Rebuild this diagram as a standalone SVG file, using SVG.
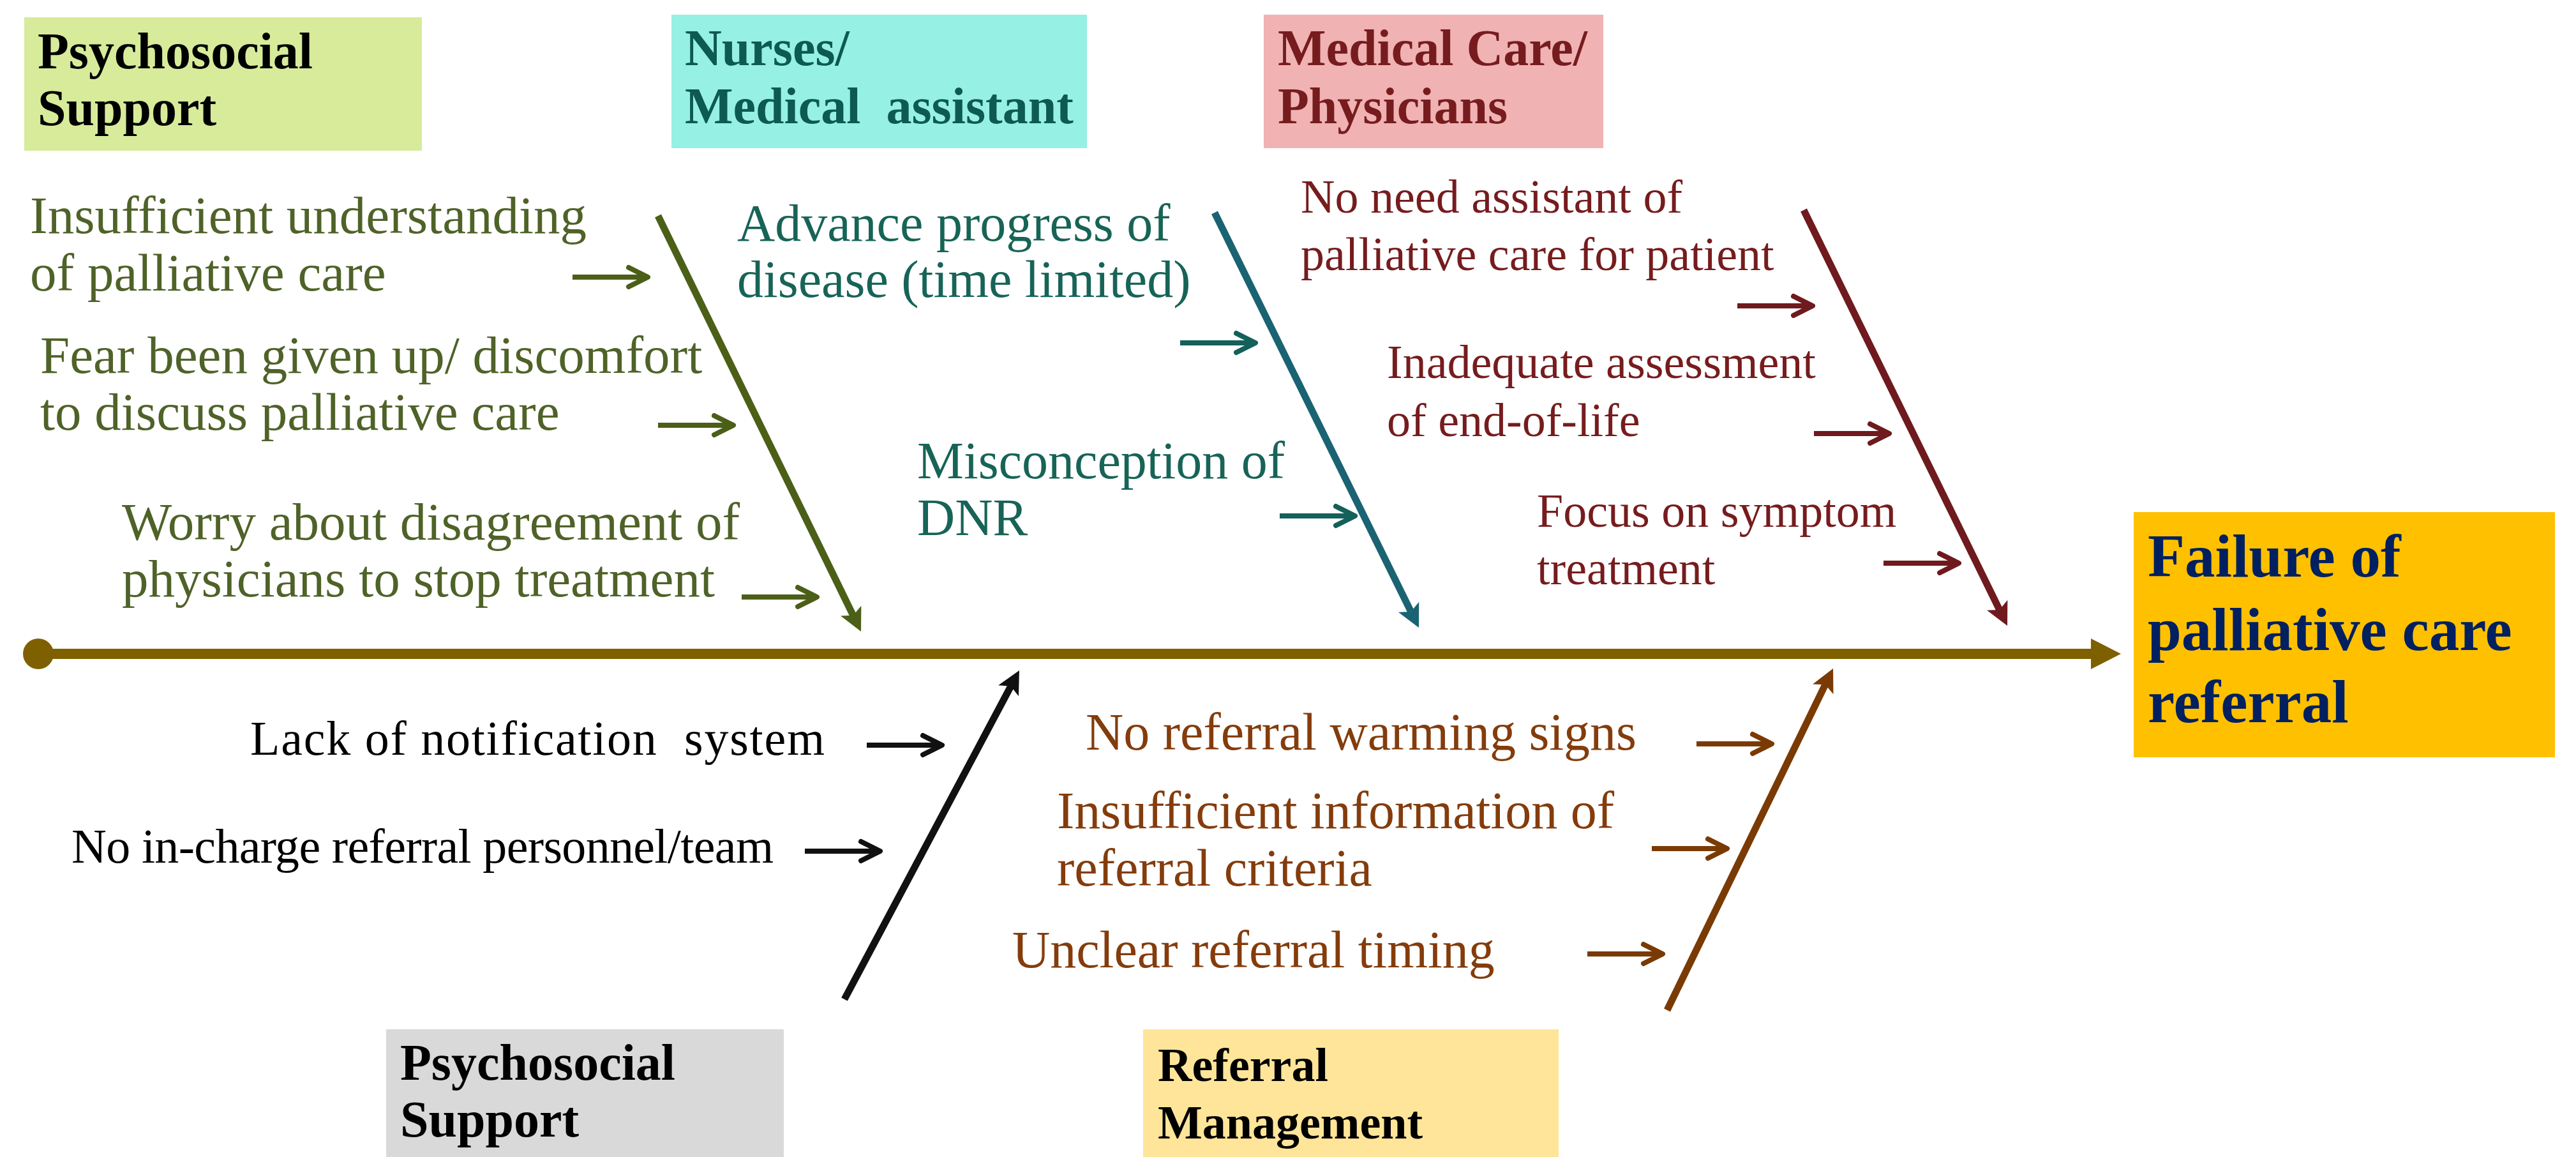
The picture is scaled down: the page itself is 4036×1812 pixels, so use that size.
<svg xmlns="http://www.w3.org/2000/svg" xmlns:xlink="http://www.w3.org/1999/xlink" width="4036" height="1812" viewBox="0 0 4036 1812">
<style>
.t{font-family:"Liberation Serif","Times New Roman",serif;}
.h{font-family:"Liberation Serif","Times New Roman",serif;font-weight:bold;font-size:80px;}
.g{fill:#4f6228;font-size:83px;}
.tl{fill:#176457;font-size:82px;}
.m{fill:#761c1e;font-size:74px;}
.k{fill:#000;font-size:76px;}
.b{fill:#843c0c;font-size:82px;}
.diag{fill:none;stroke-width:11;stroke-linecap:butt;}
.sa-line{fill:none;stroke-width:8;stroke-linecap:butt;}
.sa-head{fill:none;stroke-width:8;stroke-linecap:round;stroke-linejoin:round;}
</style>
<defs>
<g id="sa">
<path class="sa-line" d="M0,0 H114"/>
<path class="sa-head" d="M88,-15 L118,0 L88,15"/>
</g>
<marker id="hG" markerUnits="userSpaceOnUse" markerWidth="80" markerHeight="80" refX="0" refY="0" orient="auto" overflow="visible"><path d="M28,0 L-8,-18 L0,0 L-8,18 Z" fill="#4b5f17"/></marker>
<marker id="hT" markerUnits="userSpaceOnUse" markerWidth="80" markerHeight="80" refX="0" refY="0" orient="auto" overflow="visible"><path d="M28,0 L-8,-18 L0,0 L-8,18 Z" fill="#1a6372"/></marker>
<marker id="hM" markerUnits="userSpaceOnUse" markerWidth="80" markerHeight="80" refX="0" refY="0" orient="auto" overflow="visible"><path d="M28,0 L-8,-18 L0,0 L-8,18 Z" fill="#6f1a1e"/></marker>
<marker id="hK" markerUnits="userSpaceOnUse" markerWidth="80" markerHeight="80" refX="0" refY="0" orient="auto" overflow="visible"><path d="M28,0 L-8,-18 L0,0 L-8,18 Z" fill="#111111"/></marker>
<marker id="hB" markerUnits="userSpaceOnUse" markerWidth="80" markerHeight="80" refX="0" refY="0" orient="auto" overflow="visible"><path d="M28,0 L-8,-18 L0,0 L-8,18 Z" fill="#7a3a04"/></marker>
</defs>
<rect width="4036" height="1812" fill="#ffffff"/>

<!-- Category headings -->
<g id="cat-psychosocial-top">
<rect x="38" y="27" width="623" height="209" fill="#d7eb9b"/>
<text class="h" x="59" y="107" fill="#000">Psychosocial</text>
<text class="h" x="59" y="196" fill="#000">Support</text>
</g>
<g id="cat-nurses">
<rect x="1052" y="23" width="651" height="209" fill="#96f0e4"/>
<text class="h" x="1073" y="102" fill="#0d5a50">Nurses/</text>
<text class="h" x="1073" y="193" fill="#0d5a50">Medical&#160; assistant</text>
</g>
<g id="cat-medical">
<rect x="1980" y="23" width="532" height="209" fill="#f0b2b2"/>
<text class="h" x="2002" y="102" fill="#761c1e">Medical Care/</text>
<text class="h" x="2002" y="193" fill="#761c1e">Physicians</text>
</g>
<g id="cat-psychosocial-bottom">
<rect x="605" y="1612" width="623" height="200" fill="#d9d9d9"/>
<text class="h" x="627" y="1691" fill="#000">Psychosocial</text>
<text class="h" x="627" y="1780" fill="#000">Support</text>
</g>
<g id="cat-referral">
<rect x="1791" y="1612" width="651" height="200" fill="#fee599"/>
<text class="h" x="1814" y="1693" fill="#000" style="font-size:74px">Referral</text>
<text class="h" x="1814" y="1783" fill="#000" style="font-size:74px">Management</text>
</g>
<g id="effect">
<rect x="3343" y="802" width="660" height="384" fill="#ffc000"/>
<text class="h" x="3365" y="903" fill="#002060" style="font-size:95px">Failure of</text>
<text class="h" x="3365" y="1018" fill="#002060" style="font-size:95px">palliative care</text>
<text class="h" x="3365" y="1131" fill="#002060" style="font-size:95px">referral</text>
</g>

<!-- Causes -->
<g id="cause-insufficient-understanding">
<text class="t g" x="47" y="365">Insufficient understanding</text>
<text class="t g" x="47" y="455">of palliative care</text>
</g>
<g id="cause-fear">
<text class="t g" x="63" y="584">Fear been given up/ discomfort</text>
<text class="t g" x="63" y="673">to discuss palliative care</text>
</g>
<g id="cause-worry">
<text class="t g" x="191" y="845">Worry about disagreement of</text>
<text class="t g" x="191" y="934">physicians to stop treatment</text>
</g>
<g id="cause-advance">
<text class="t tl" x="1155" y="377">Advance progress of</text>
<text class="t tl" x="1155" y="465">disease (time limited)</text>
</g>
<g id="cause-dnr">
<text class="t tl" x="1437" y="749">Misconception of</text>
<text class="t tl" x="1437" y="838">DNR</text>
</g>
<g id="cause-no-need">
<text class="t m" x="2038" y="333">No need assistant of</text>
<text class="t m" x="2038" y="423">palliative care for patient</text>
</g>
<g id="cause-inadequate">
<text class="t m" x="2173" y="592">Inadequate assessment</text>
<text class="t m" x="2173" y="683">of end-of-life</text>
</g>
<g id="cause-focus">
<text class="t m" x="2408" y="825">Focus on symptom</text>
<text class="t m" x="2408" y="915">treatment</text>
</g>
<g id="cause-notification">
<text class="t k" x="392" y="1182" textLength="900" lengthAdjust="spacing">Lack of notification&#160; system</text>
</g>
<g id="cause-personnel">
<text class="t k" x="112" y="1351" textLength="1100" lengthAdjust="spacing">No in-charge referral personnel/team</text>
</g>
<g id="cause-warning">
<text class="t b" x="1701" y="1174">No referral warming signs</text>
</g>
<g id="cause-criteria">
<text class="t b" x="1656" y="1297">Insufficient information of</text>
<text class="t b" x="1656" y="1387">referral criteria</text>
</g>
<g id="cause-timing">
<text class="t b" x="1586" y="1515">Unclear referral timing</text>
</g>

<!-- Connectors -->
<g id="connectors">
<line x1="60" y1="1024" x2="3278" y2="1024" stroke="#7f6000" stroke-width="16"/>
<circle cx="60" cy="1024" r="24" fill="#7f6000"/>
<polygon points="3276,1000 3323,1024 3276,1048" fill="#7f6000"/>

<line class="diag" x1="1031" y1="338" x2="1336.7" y2="963.8" stroke="#4b5f17" marker-end="url(#hG)"/>
<line class="diag" x1="1903" y1="333" x2="2210.6" y2="957.9" stroke="#1a6372" marker-end="url(#hT)"/>
<line class="diag" x1="2826" y1="329" x2="3132.7" y2="954.9" stroke="#6f1a1e" marker-end="url(#hM)"/>
<line class="diag" x1="1323" y1="1565" x2="1583.8" y2="1074.7" stroke="#111111" marker-end="url(#hK)"/>
<line class="diag" x1="2612" y1="1582" x2="2859.8" y2="1072.2" stroke="#7a3a04" marker-end="url(#hB)"/>

<use href="#sa" x="897" y="434" stroke="#4b5f17"/>
<use href="#sa" x="1031" y="666" stroke="#4b5f17"/>
<use href="#sa" x="1162" y="935" stroke="#4b5f17"/>
<use href="#sa" x="1849" y="537" stroke="#14605a"/>
<use href="#sa" x="2005" y="808" stroke="#14605a"/>
<use href="#sa" x="2722" y="479" stroke="#6f1a1e"/>
<use href="#sa" x="2842" y="679" stroke="#6f1a1e"/>
<use href="#sa" x="2951" y="882" stroke="#6f1a1e"/>
<use href="#sa" x="1358" y="1167" stroke="#111111"/>
<use href="#sa" x="1261" y="1333" stroke="#111111"/>
<use href="#sa" x="2658" y="1165" stroke="#7a3a04"/>
<use href="#sa" x="2588" y="1329" stroke="#7a3a04"/>
<use href="#sa" x="2487" y="1494" stroke="#7a3a04"/>
</g>
</svg>
